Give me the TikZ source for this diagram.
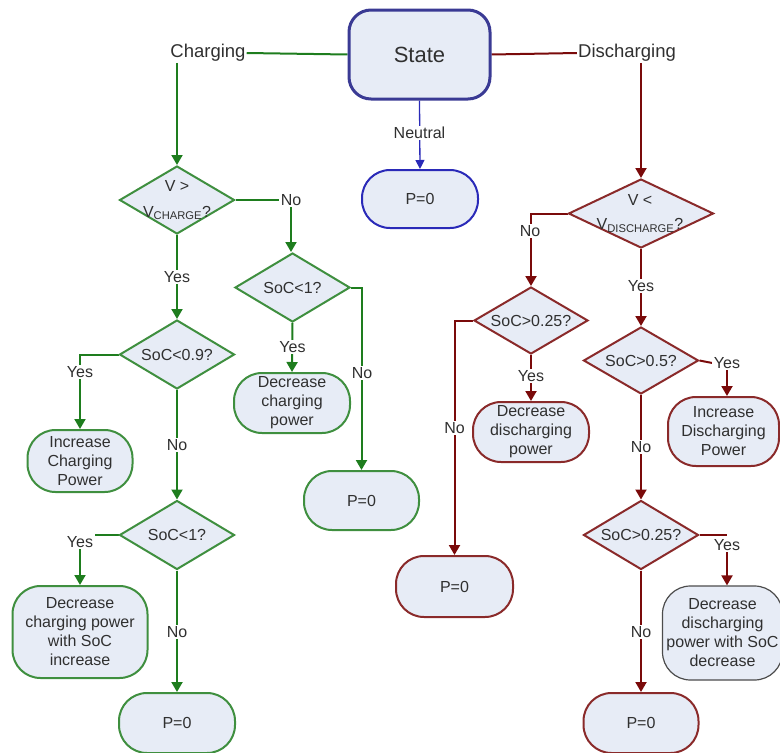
\documentclass[tikz,border=0pt]{standalone}
\usepackage{fontspec}
\setmainfont{Liberation Sans}
\usetikzlibrary{shapes.geometric,arrows.meta}
\definecolor{gline}{HTML}{1E7D1E}
\definecolor{gbord}{HTML}{3F8F3F}
\definecolor{rline}{HTML}{7A0A0A}
\definecolor{rbord}{HTML}{8A2A2A}
\definecolor{bline}{HTML}{2A2AB8}
\definecolor{sbord}{HTML}{3A3A94}
\definecolor{nfill}{HTML}{E7ECF6}
\definecolor{txt}{HTML}{303030}
\pgfdeclarelayer{bg}
\pgfsetlayers{bg,main}
\begin{document}
\begin{tikzpicture}[x=1pt,y=-1pt,
  font=\fontsize{16}{19}\selectfont, text=txt,
  tbox/.style={rectangle, rounded corners=28pt, fill=nfill, line width=2pt, align=center, inner sep=0pt},
  gbox/.style={tbox, draw=gbord},
  rbox/.style={tbox, draw=rbord},
  dia/.style={diamond, aspect=1.7, fill=nfill, line width=2pt, inner sep=0pt, minimum width=115pt, minimum height=69pt},
  gdia/.style={dia, draw=gbord},
  rdia/.style={dia, draw=rbord},
  dtext/.style={align=center, inner sep=0pt},
  lab/.style={fill=white, inner sep=1.5pt},
  tip/.style={-{Triangle[length=10pt,width=11pt]}},
  gl/.style={draw=gline, line width=2pt},
  rl/.style={draw=rline, line width=2pt}
]
\useasboundingbox (0,0) rectangle (780,753);
\clip (0,0) rectangle (780,753);

% top
\node[rectangle, rounded corners=22pt, draw=sbord, line width=3pt, fill=nfill,
      minimum width=141pt, minimum height=89pt, font=\fontsize{22}{26}\selectfont] (state) at (419.5,54.5) {State};
\node[inner sep=1pt, font=\fontsize{18.5}{22}\selectfont] (charging) at (208,53) {Charging};
\node[inner sep=1pt, font=\fontsize{18.5}{22}\selectfont] (discharging) at (627,53) {Discharging};
\node[tbox, draw=bline, minimum width=116pt, minimum height=58pt] (p0n) at (420,199) {P=0};

% left branch
\node[gdia, minimum height=68pt] (d1) at (177,200) {};
\node[dtext] (d1t) at (177,200) {V >\\[7pt]V\textsubscript{CHARGE}?};
\node[gdia] (d2) at (292.5,287.5) {};
\node[dtext] (d2t) at (292.5,287.5) {SoC<1?};
\node[gdia] (d3) at (177,354.5) {};
\node[dtext] (d3t) at (177,354.5) {SoC<0.9?};
\node[gdia] (d5) at (177,535) {};
\node[dtext] (d5t) at (177,535) {SoC<1?};

\node[gbox, minimum width=116pt, minimum height=60pt] (dec1) at (292,403) {Decrease\\charging\\power};
\node[gbox, minimum width=115pt, minimum height=59pt] (p0a) at (361.5,500.5) {P=0};
\node[gbox, minimum width=105pt, minimum height=62pt] (inc1) at (80,461) {Increase\\Charging\\Power};
\node[gbox, minimum width=135pt, minimum height=92pt] (dec2) at (80,632) {Decrease\\charging power\\with SoC\\increase};
\node[gbox, minimum width=116pt, minimum height=60pt] (p0b) at (177,723) {P=0};

% right branch
\node[rdia, minimum width=145pt] (d2r) at (641,213.5) {};
\node[dtext] (d2rt) at (640,213.5) {V <\\[5pt]V\textsubscript{DISCHARGE}?};
\node[rdia, minimum width=114pt, minimum height=67pt] (d6) at (531,320.5) {};
\node[dtext] (d6t) at (531,320.5) {SoC>0.25?};
\node[rdia, minimum height=67pt] (d7) at (641,360.5) {};
\node[dtext] (d7t) at (641,360.5) {SoC>0.5?};
\node[rdia] (d8) at (641,535) {};
\node[dtext] (d8t) at (641,535) {SoC>0.25?};

\node[rbox, minimum width=117pt, minimum height=61pt] (p0c) at (454.5,586.5) {P=0};
\node[rbox, minimum width=116pt, minimum height=60pt] (dec3) at (531,432) {Decrease\\discharging\\power};
\node[rbox, minimum width=111pt, minimum height=69pt] (inc2) at (723.5,431.5) {Increase\\Discharging\\Power};
\node[tbox, draw=black!70, line width=1.2pt, minimum width=120pt, minimum height=94pt] (dec4) at (722.5,633) {Decrease\\discharging\\power with SoC\\decrease};
\node[rbox, minimum width=115pt, minimum height=60pt] (p0d) at (641,723) {P=0};

% labels
\node[lab] (neutral) at (419.5,133) {Neutral};
\node[lab] (no1) at (291,200) {No};
\node[lab] (yes1) at (177,277) {Yes};
\node[lab] (yes2) at (292.5,347) {Yes};
\node[lab] (no3) at (362,373) {No};
\node[lab] (yes3) at (80,372) {Yes};
\node[lab] (no4) at (177,445) {No};
\node[lab] (yes5) at (80,542) {Yes};
\node[lab] (no5) at (177,632) {No};
\node[lab] (no6) at (530,231) {No};
\node[lab] (no7) at (454.5,428) {No};
\node[lab] (yes6) at (531,376) {Yes};
\node[lab] (yes7) at (641,286) {Yes};
\node[lab] (yes8) at (727,363) {Yes};
\node[lab] (no8) at (641,447) {No};
\node[lab] (yes9) at (727,545) {Yes};
\node[lab] (no9) at (641,632) {No};

% connectors behind the labels
\begin{pgfonlayer}{bg}
\draw[draw=gline, line width=2pt] (state.west) -- (charging.east);
\draw[draw=rline, line width=2pt] (state.east) -- (discharging.west);
\draw[gl, tip] (charging.south -| d1.north) -- (d1.north);
\draw[rl, tip] (discharging.south -| d2r.north) -- (d2r.north);
\draw[draw=bline, line width=1.3pt, -{Triangle[length=9pt,width=9pt]}] (state.south) -- (p0n.north);

\draw[gl] (d1.east) -- (no1.west);
\draw[gl, tip] (no1.south) -- (no1.south |- d2.north);
\draw[gl, tip] (d1.south) -- (d3.north);
\draw[gl, tip] (d2.south) -- (dec1.north);
\draw[gl, tip] (d2.east) -| (p0a.north);
\draw[gl, tip] (d3.west) -| (inc1.north);
\draw[gl, tip] (d3.south) -- (d5.north);
\draw[gl] (d5.west) -- (d5.west -| yes5.east);
\draw[gl, tip] (yes5.south) -- (dec2.north);
\draw[gl, tip] (d5.south) -- (p0b.north);

\draw[rl, tip] (d2r.west) -| (d6.north);
\draw[rl, tip] (d6.west) -| (p0c.north);
\draw[rl, tip] (d6.south) -- (dec3.north);
\draw[rl, tip] (d2r.south) -- (d7.north);
\draw[rl] (d7.east) -- (yes8.west);
\draw[rl, tip] (yes8.south) -- (yes8.south |- inc2.north);
\draw[rl, tip] (d7.south) -- (d8.north);
\draw[rl] (d8.east) -- (d8.east -| yes9.north);
\draw[rl, tip] (yes9.south) -- (yes9.south |- dec4.north);
\draw[rl, tip] (d8.south) -- (p0d.north);
\end{pgfonlayer}
\end{tikzpicture}
\end{document}
